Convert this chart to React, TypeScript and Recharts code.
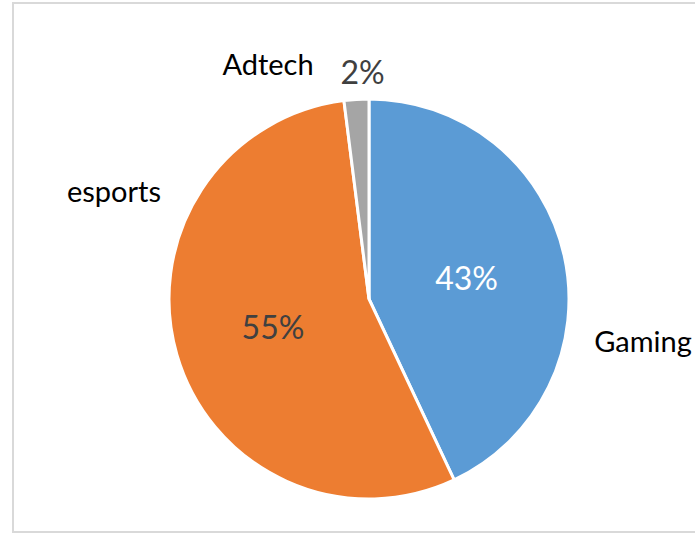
import { PieChart, Pie, Cell } from 'recharts';

const categories = ['Gaming', 'esports', 'Adtech'];
const shares = [43, 55, 2];

const COLORS = ['#5B9BD5', '#ED7D31', '#A5A5A5'];
const PCT_COLORS = ['#FFFFFF', '#404040', '#404040'];
// where Excel put the category names, relative to the pie centre
const NAME_SHIFT = [
  { dx: 274, dy: 41 },
  { dx: -255, dy: -109 },
  { dx: -101, dy: -236 },
];

const chartData = categories.map((name, i) => ({ name, value: shares[i] }));

const RAD = Math.PI / 180;

function renderLabel(props: any) {
  const { cx, cy, midAngle, outerRadius, percent, index } = props;
  const small = percent < 0.05;
  const r = small ? outerRadius + 28 : outerRadius * 0.5;
  const px = cx + r * Math.cos(-midAngle * RAD) + (small ? 8 : 0);
  const py = cy + r * Math.sin(-midAngle * RAD);
  const shift = NAME_SHIFT[index];
  return (
    <g>
      <text
        x={px}
        y={py}
        fill={PCT_COLORS[index]}
        textAnchor="middle"
        dominantBaseline="central"
        fontSize={32}
        fontFamily="Lato"
      >
        {`${Math.round(percent * 100)}%`}
      </text>
      <text
        x={cx + shift.dx}
        y={cy + shift.dy}
        fill="#000000"
        textAnchor="middle"
        dominantBaseline="central"
        fontSize={29}
        fontFamily="Lato"
      >
        {categories[index]}
      </text>
    </g>
  );
}

export default function App() {
  return (
    <div style={{ position: 'fixed', left: 0, top: 0, width: 695, height: 533, background: '#fff', overflow: 'hidden' }}>
      <div
        style={{
          position: 'absolute',
          left: 12,
          top: 2,
          width: 720,
          height: 527,
          border: '2px solid #D9D9D9',
        }}
      />
      <div style={{ position: 'absolute', left: 0, top: 0 }}>
        <PieChart width={695} height={533} margin={{ top: 0, right: 0, bottom: 0, left: 0 }}>
          <Pie
            data={chartData}
            dataKey="value"
            nameKey="name"
            cx={369}
            cy={299}
            outerRadius={200}
            startAngle={90}
            endAngle={-270}
            stroke="#FFFFFF"
            strokeWidth={3}
            label={renderLabel}
            labelLine={false}
            isAnimationActive={false}
          >
            {chartData.map((_, index) => (
              <Cell key={`cell-${index}`} fill={COLORS[index % COLORS.length]} />
            ))}
          </Pie>
        </PieChart>
      </div>
    </div>
  );
}
